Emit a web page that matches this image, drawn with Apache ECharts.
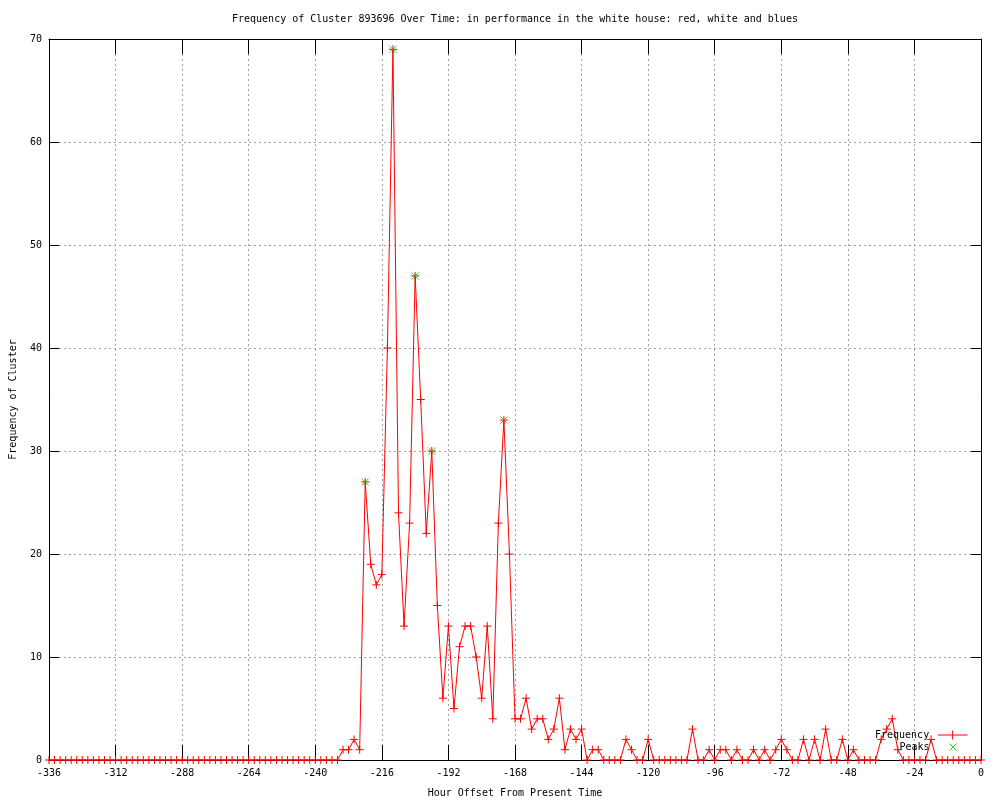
<!DOCTYPE html>
<html>
<head>
<meta charset="utf-8">
<script src="https://cdn.jsdelivr.net/npm/echarts@6/dist/echarts.min.js"></script>
<style>
html,body{margin:0;padding:0;background:#fff;}
#chart{width:1000px;height:800px;}
</style>
</head>
<body>
<div id="chart"></div>
<script>
// Hour offsets (every 2 hours from -336 to 0)
const hourStart = -336;
const hourStep = 2;
// Frequency values, one per 2-hour offset
const frequencyValues = [
  0,0,0,0,0,0,0,0,0,0, 0,0,0,0,0,0,0,0,0,0, 0,0,0,0,0,0,0,0,0,0,
  0,0,0,0,0,0,0,0,0,0, 0,0,0,0,0,0,0,0,0,0, 0,0,0,            // -336 .. -232
  1,1,2,1,27,19,17,18,40,69,                                    // -230 .. -212
  24,13,23,47,35,22,30,15,6,13,                                 // -210 .. -192
  5,11,13,13,10,6,13,4,23,33,                                   // -190 .. -172
  20,4,4,6,3,4,4,2,3,6,                                         // -170 .. -152
  1,3,2,3,0,1,1,0,0,0,                                          // -150 .. -132
  0,2,1,0,0,2,0,0,0,0,                                          // -130 .. -112
  0,0,0,3,0,0,1,0,1,1,                                          // -110 .. -92
  0,1,0,0,1,0,1,0,1,2,                                          // -90 .. -72
  1,0,0,2,0,2,0,3,0,0,                                          // -70 .. -52
  2,0,1,0,0,0,0,2,3,4,                                          // -50 .. -32
  1,0,0,0,0,0,2,0,0,0,                                          // -30 .. -12
  0,0,0,0,0,0                                                   // -10 .. 0
];
const peakHours = [-222, -212, -204, -198, -172];
const peakValues = [27, 69, 47, 30, 33];
const xTicks = [-336,-312,-288,-264,-240,-216,-192,-168,-144,-120,-96,-72,-48,-24,0];
const yTicks = [0,10,20,30,40,50,60,70];

const freqData = frequencyValues.map((v, i) => [hourStart + i * hourStep, v]);
const peakData = peakHours.map((h, i) => [h, peakValues[i]]);

const FONT = 'DejaVu Sans Mono';
const plusSym = 'path://M0,5L10,5M5,0L5,10';
const crossSym = 'path://M0,0L10,10M10,0L0,10';

const chart = echarts.init(document.getElementById('chart'), null, {renderer: 'canvas'});

const xBase = {
  type: 'value', min: xTicks[0], max: xTicks[xTicks.length - 1], interval: 24,
  axisLine: {show: true, onZero: false, lineStyle: {color: '#000', width: 1}},
  axisTick: {show: true, inside: true, length: 15, lineStyle: {color: '#000', width: 1}},
  splitLine: {show: false}
};
const yBase = {
  type: 'value', min: yTicks[0], max: yTicks[yTicks.length - 1], interval: 10,
  axisLine: {show: true, onZero: false, lineStyle: {color: '#000', width: 1}},
  axisTick: {show: true, inside: true, length: 10, lineStyle: {color: '#000', width: 1}},
  splitLine: {show: false}
};

chart.setOption({
  animation: false,
  backgroundColor: '#fff',
  title: {
    text: 'Frequency of Cluster 893696 Over Time: in performance in the white house: red, white and blues',
    left: 227, top: 9,
    textStyle: {fontFamily: FONT, fontSize: 10, fontWeight: 'normal', color: '#000'}
  },
  grid: {left: 49, right: 19, top: 39, bottom: 40, containLabel: false, outerBoundsMode: 'none'},
  legend: [
    {
      data: [{name: 'Frequency', icon: 'path://M0,5L33,5M16.5,0L16.5,10'}],
      right: 30, top: 728, orient: 'vertical', align: 'right',
      itemWidth: 33, itemHeight: 9, itemGap: 4, padding: 0,
      textStyle: {fontFamily: FONT, fontSize: 10, color: '#000', padding: [0, 2, 0, 0]},
      itemStyle: {color: 'none', borderColor: '#ff0000', borderWidth: 1},
      selectedMode: false
    },
    {
      data: [{name: 'Peaks', icon: 'path://M0,0L10,10M10,0L0,10'}],
      right: 41, top: 741, orient: 'vertical', align: 'right',
      itemWidth: 7, itemHeight: 7, padding: 0,
      textStyle: {fontFamily: FONT, fontSize: 10, color: '#000', padding: [0, 15, 0, 0]},
      itemStyle: {color: 'none', borderColor: '#00c000', borderWidth: 1},
      selectedMode: false
    }
  ],
  xAxis: [
    Object.assign({}, xBase, {
      position: 'bottom',
      name: 'Hour Offset From Present Time', nameLocation: 'middle', nameGap: 28,
      nameTextStyle: {fontFamily: FONT, fontSize: 10, color: '#000'},
      axisLabel: {show: true, margin: 8, fontFamily: FONT, fontSize: 10, color: '#000',
                  showMinLabel: true, showMaxLabel: true},
      splitLine: {show: true, lineStyle: {color: '#a0a0a0', width: 1, type: [2, 3]}}
    }),
    Object.assign({}, xBase, {position: 'top', axisLabel: {show: false}})
  ],
  yAxis: [
    Object.assign({}, yBase, {
      position: 'left',
      name: 'Frequency of Cluster', nameLocation: 'middle', nameGap: 31, nameRotate: 90,
      nameTextStyle: {fontFamily: FONT, fontSize: 10, color: '#000'},
      axisLabel: {show: true, margin: 7, fontFamily: FONT, fontSize: 10, color: '#000'},
      splitLine: {show: true, lineStyle: {color: '#a0a0a0', width: 1, type: [2, 3]}}
    }),
    Object.assign({}, yBase, {position: 'right', axisLabel: {show: false}})
  ],
  series: [
    {
      name: 'Frequency', type: 'line', xAxisIndex: 0, yAxisIndex: 0,
      data: freqData, clip: false,
      symbol: plusSym, symbolSize: 8, showAllSymbol: true,
      lineStyle: {color: '#ff0000', width: 1},
      itemStyle: {color: 'none', borderColor: '#ff0000', borderWidth: 1},
      emphasis: {disabled: true},
      z: 2
    },
    {
      name: 'Peaks', type: 'scatter', xAxisIndex: 0, yAxisIndex: 0,
      data: peakData, clip: false,
      symbol: crossSym, symbolSize: 7,
      itemStyle: {color: 'none', borderColor: '#00c000', borderWidth: 1},
      emphasis: {disabled: true},
      z: 3
    }
  ]
});
</script>
</body>
</html>
